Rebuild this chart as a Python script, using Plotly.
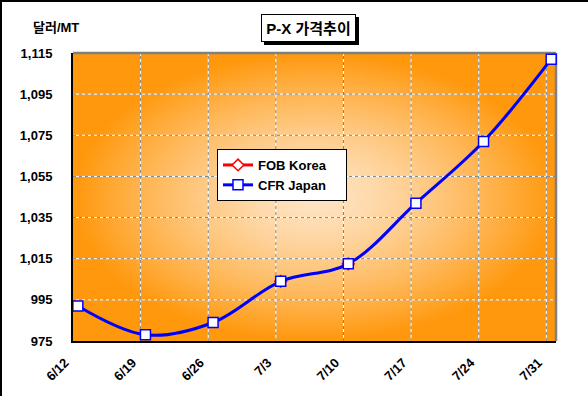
import base64, struct, zlib, math
from datetime import datetime, timedelta
import plotly.graph_objects as go

# ---- data ----
dates = ["2006-06-12", "2006-06-19", "2006-06-26", "2006-07-03",
         "2006-07-10", "2006-07-17", "2006-07-24", "2006-07-31"]
tick_labels = ["6/12", "6/19", "6/26", "7/3", "7/10", "7/17", "7/24", "7/31"]
cfr_japan = [992, 978, 984, 1004, 1012.5, 1042, 1072, 1112]
fob_korea = [None, None, None, 1004, 1012.5, None, None, None]
y_ticks = [975, 995, 1015, 1035, 1055, 1075, 1095, 1115]
series_names = ["FOB Korea", "CFR Japan"]

W, H = 588, 396
ML, MR, MT, MB = 73, 32, 53, 55
PW, PH = W - ML - MR, H - MT - MB

FONT = "Liberation Sans, Arial, Noto Sans CJK KR, sans-serif"

# ---- radial gradient background as PNG ----
def gradient_png(w, h, c0, c1, gamma=1.4):
    raw = bytearray()
    for j in range(h):
        raw.append(0)
        dy = (j + 0.5) / h * 2 - 1
        for i in range(w):
            dx = (i + 0.5) / w * 2 - 1
            t = min(1.0, math.sqrt(dx * dx + dy * dy)) ** gamma
            for k in range(3):
                raw.append(int(round(c0[k] + (c1[k] - c0[k]) * t)))
    def chunk(tag, data):
        return (struct.pack(">I", len(data)) + tag + data +
                struct.pack(">I", zlib.crc32(tag + data) & 0xffffffff))
    png = (b"\x89PNG\r\n\x1a\n" +
           chunk(b"IHDR", struct.pack(">IIBBBBB", w, h, 8, 2, 0, 0, 0)) +
           chunk(b"IDAT", zlib.compress(bytes(raw), 9)) +
           chunk(b"IEND", b""))
    return "data:image/png;base64," + base64.b64encode(png).decode()

bg_src = gradient_png(160, 96, (254, 228, 196), (255, 152, 12))

# ---- x positions: points at dates, grid/ticks half a day earlier ----
dt = [datetime.strptime(d, "%Y-%m-%d") for d in dates]
half = timedelta(hours=12)
tickvals = [d - half for d in dt]
x_range = [dt[0] - half, dt[-1] + half]

pad_name = lambda s: s + "\u00a0" * 4

fig = go.Figure()
# legend entry for FOB Korea (line + marker sample)
fig.add_trace(go.Scatter(
    x=[None], y=[None], name=pad_name(series_names[0]), mode="lines+markers",
    legendgroup="fob",
    line=dict(color="#FF0000", width=3),
    marker=dict(symbol="diamond", size=9, color="white",
                line=dict(color="#FF0000", width=1.5))))
# FOB Korea points (hidden almost entirely under CFR Japan)
fig.add_trace(go.Scatter(
    x=dt, y=fob_korea, name=series_names[0], mode="markers",
    legendgroup="fob", showlegend=False,
    marker=dict(symbol="diamond", size=9, color="white",
                line=dict(color="#FF0000", width=1.5)),
    cliponaxis=False))
fig.add_trace(go.Scatter(
    x=dt, y=cfr_japan, name=pad_name(series_names[1]), mode="lines+markers",
    line=dict(color="#0000FF", width=3, shape="spline", smoothing=1),
    marker=dict(symbol="square", size=10, color="white",
                line=dict(color="#0000FF", width=1.5)),
    cliponaxis=False))

px = lambda p: (p - ML) / PW
py = lambda p: (H - MB - p) / PH

shapes = []
# gridlines: white solid with gray dashes on top
for color, dash in (("white", "solid"), ("#808080", "3px,3px")):
    for tv in tickvals[1:]:
        shapes.append(dict(type="line", xref="x", yref="paper", x0=tv, x1=tv,
                           y0=0, y1=1, layer="between",
                           line=dict(color=color, width=1, dash=dash)))
    for yv in y_ticks[1:-1]:
        shapes.append(dict(type="line", xref="paper", yref="y", x0=0, x1=1,
                           y0=yv, y1=yv, layer="between",
                           line=dict(color=color, width=1, dash=dash)))
# top and right gray frame
shapes.append(dict(type="line", xref="paper", yref="paper", x0=0, x1=1,
                   y0=1, y1=1, layer="between",
                   line=dict(color="#808080", width=2.5)))
shapes.append(dict(type="line", xref="paper", yref="paper", x0=1, x1=1,
                   y0=0, y1=1, layer="between",
                   line=dict(color="#808080", width=2.5)))
# outer page border (top and left)
shapes.append(dict(type="line", xref="paper", yref="paper",
                   x0=px(0), x1=px(W), y0=py(1), y1=py(1),
                   line=dict(color="black", width=2)))
shapes.append(dict(type="line", xref="paper", yref="paper",
                   x0=px(1), x1=px(1), y0=py(0), y1=py(H),
                   line=dict(color="black", width=2)))
# title box shadow
shapes.append(dict(type="rect", xref="paper", yref="paper",
                   x0=px(264), x1=px(359), y0=py(45), y1=py(17),
                   fillcolor="black", line=dict(width=0), layer="above"))

annotations = [
    dict(text="<b>P-X 가격추이</b>", xref="paper", yref="paper",
         x=px(308.5), y=py(28), xanchor="center", yanchor="middle",
         showarrow=False, width=93, height=26,
         font=dict(family=FONT, size=15, color="black"),
         bgcolor="white", bordercolor="black", borderwidth=1, borderpad=0),
    dict(text="<b>달러/MT</b>", xref="paper", yref="paper",
         x=px(31), y=py(27), xanchor="left", yanchor="middle",
         showarrow=False, font=dict(family=FONT, size=13, color="black")),
]

fig.update_layout(
    width=W, height=H,
    margin=dict(l=ML, r=MR, t=MT, b=MB, pad=0, autoexpand=False),
    paper_bgcolor="white", plot_bgcolor="#FF980C",
    font=dict(family=FONT, color="black"),
    showlegend=True, hovermode=False,
    legend=dict(x=px(217), y=py(149), xanchor="left", yanchor="top",
                bgcolor="white", bordercolor="black", borderwidth=1,
                font=dict(family=FONT, size=13, color="black", weight="bold"),
                itemwidth=30, tracegroupgap=0),
    images=[dict(source=bg_src, xref="paper", yref="paper", x=0, y=1,
                 sizex=1, sizey=1, sizing="stretch", layer="below")],
    shapes=shapes, annotations=annotations,
)
fig.update_xaxes(
    type="date", range=x_range, tickvals=tickvals, ticktext=tick_labels,
    tickangle=-45, tickfont=dict(family=FONT, size=13, weight="bold"),
    showgrid=False,
    showline=True, linecolor="black", linewidth=2, automargin=False,
    ticks="", ticklabelstandoff=7, ticklabelshift=-8, zeroline=False)
fig.update_yaxes(
    range=[y_ticks[0], y_ticks[-1]], tickvals=y_ticks, tickformat=",d",
    tickfont=dict(family=FONT, size=13, weight="bold"),
    showgrid=False,
    showline=True, linecolor="black", linewidth=2, automargin=False,
    ticks="", ticklabelstandoff=16, zeroline=False)

fig.write_html(
    "out.html",
    config={"displayModeBar": False},
    post_script="document.body.style.margin='0';document.body.style.padding='0';"
)
